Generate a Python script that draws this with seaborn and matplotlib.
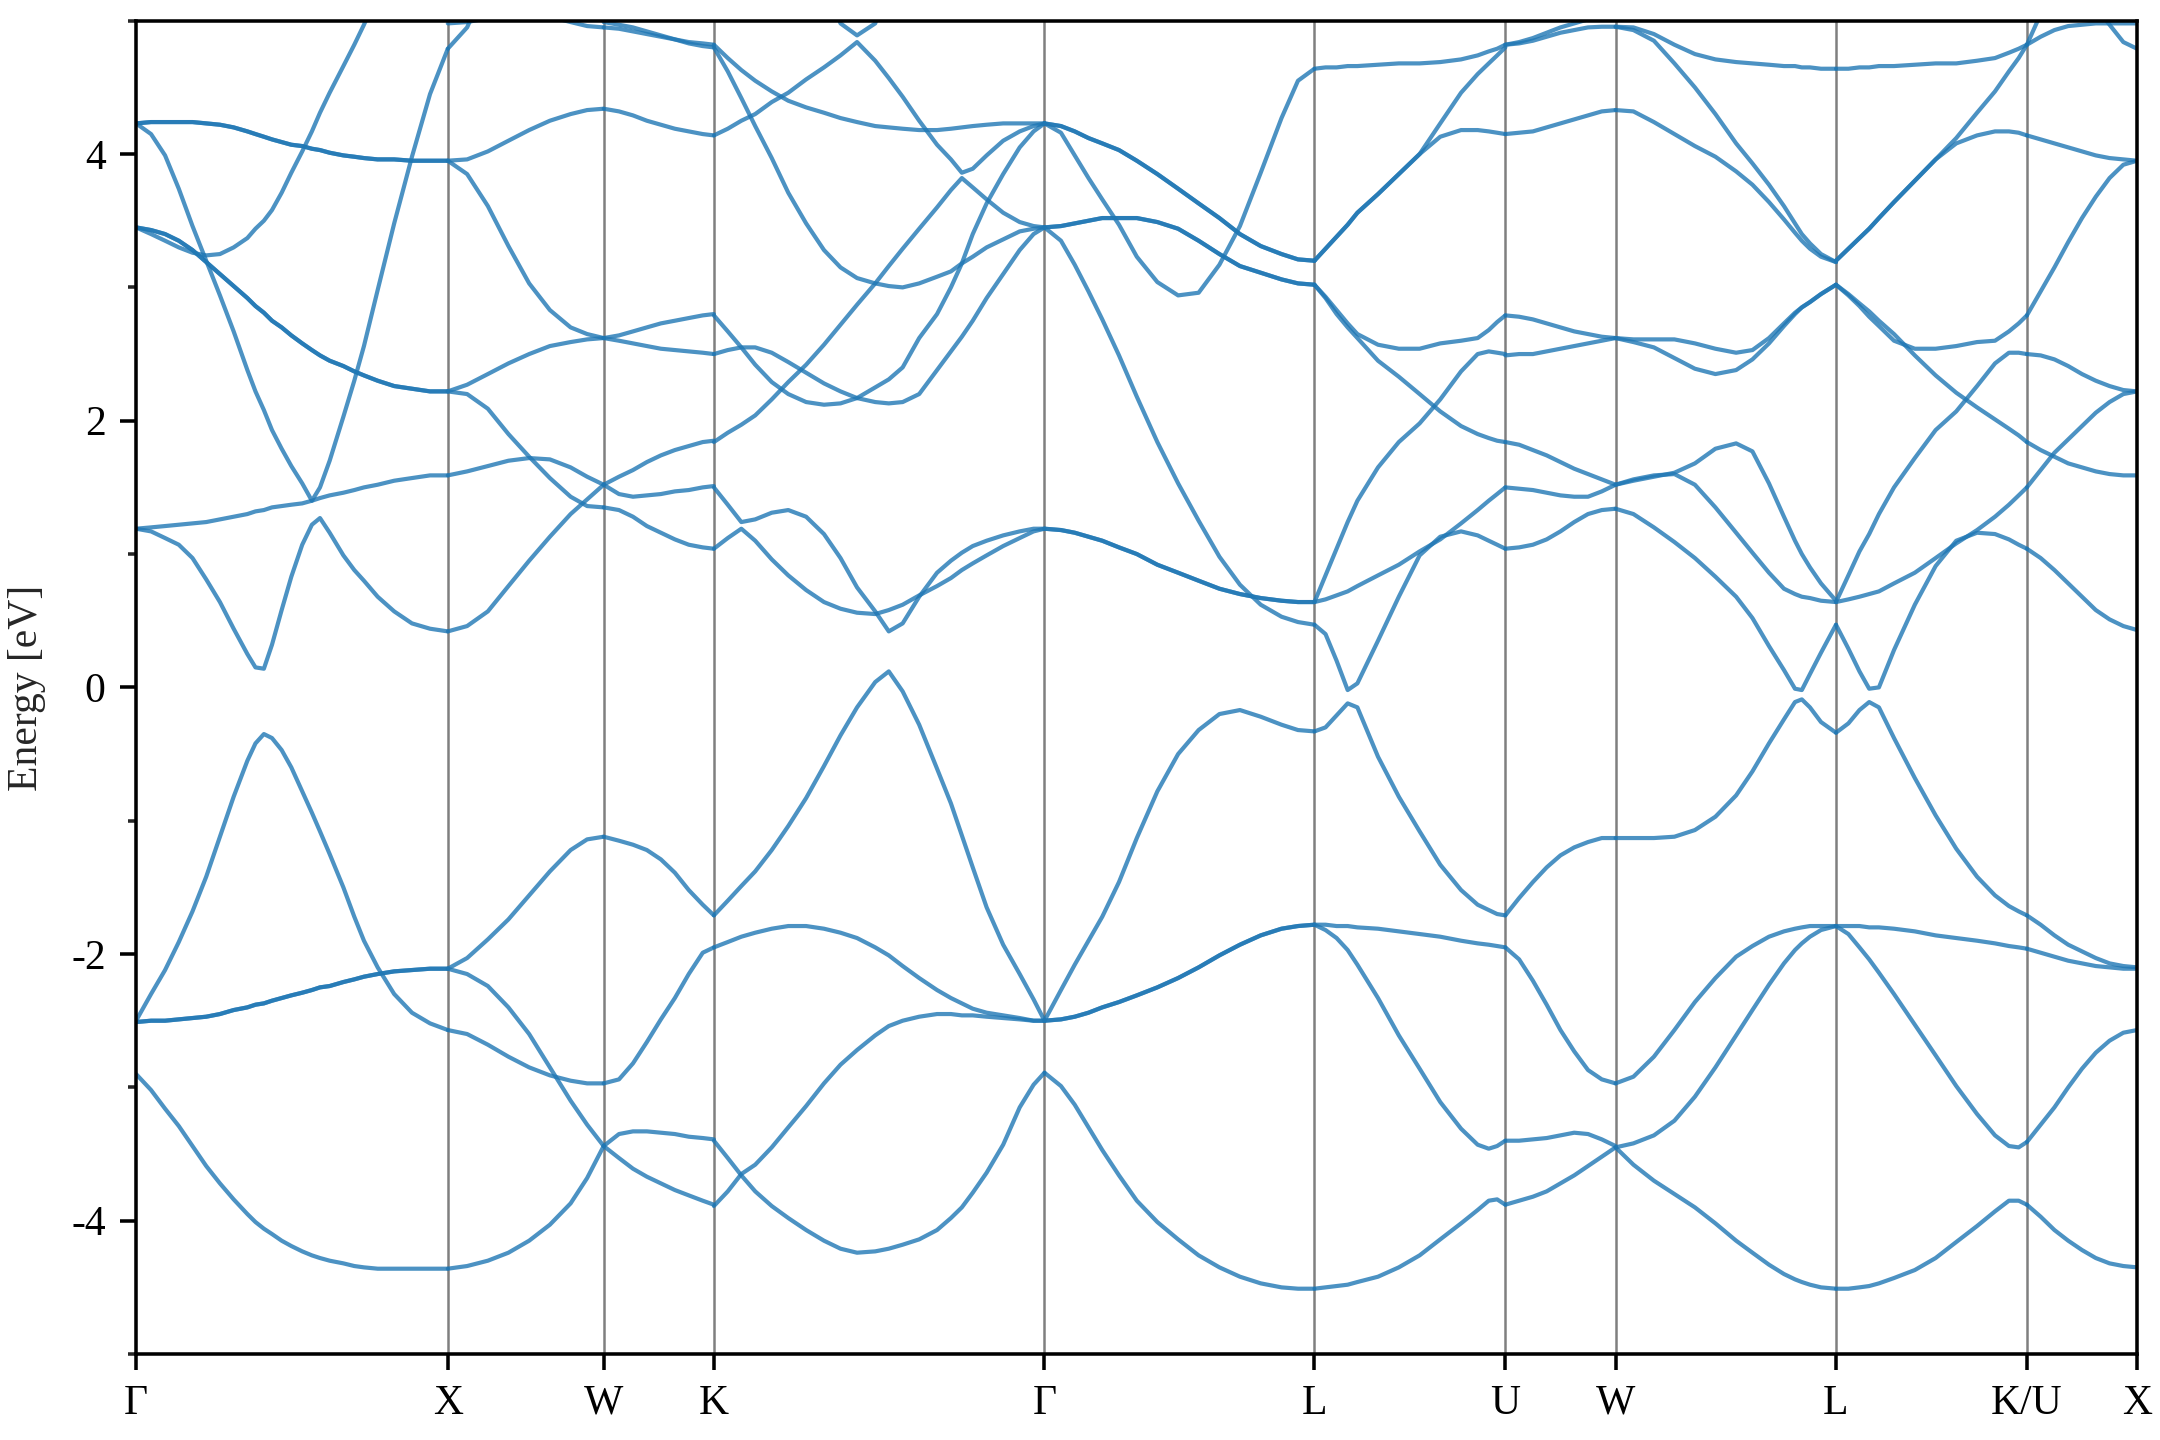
import numpy as np
import pandas as pd
import matplotlib
matplotlib.use("Agg")
import matplotlib.pyplot as plt
from matplotlib.ticker import MultipleLocator
import seaborn as sns

nan = np.nan

# high-symmetry path (distances in 2pi/a)
K_LABELS = ["Γ", "X", "W", "K", "Γ", "L", "U", "W", "L", "K/U", "X"]
K_POINTS = [0.0, 1.0, 1.5, 1.8536, 2.9142, 3.7802, 4.3926, 4.7462, 5.4533, 6.0657, 6.4193]

# each segment: fractional positions along the segment + band energies (eV)
FRAC_GX = [0, 0.048, 0.093, 0.137, 0.181, 0.225, 0.269, 0.313, 0.357, 0.383, 0.410, 0.436, 0.467,
           0.498, 0.533, 0.564, 0.590, 0.621, 0.665, 0.700, 0.731, 0.775, 0.828, 0.885, 0.943, 1.0]
BANDS_GX = [
    [-2.90, -3.02, -3.16, -3.29, -3.44, -3.59, -3.72, -3.84, -3.95, -4.01, -4.06, -4.10, -4.15,
     -4.19, -4.23, -4.26, -4.28, -4.30, -4.32, -4.34, -4.35, -4.36, -4.36, -4.36, -4.36, -4.36],
    [-2.51, -2.50, -2.50, -2.49, -2.48, -2.47, -2.45, -2.42, -2.40, -2.38, -2.37, -2.35, -2.33,
     -2.31, -2.29, -2.27, -2.25, -2.24, -2.21, -2.19, -2.17, -2.15, -2.13, -2.12, -2.11, -2.11],
    [-2.51, -2.50, -2.50, -2.49, -2.48, -2.47, -2.45, -2.42, -2.40, -2.38, -2.37, -2.35, -2.33,
     -2.31, -2.29, -2.27, -2.25, -2.24, -2.21, -2.19, -2.17, -2.15, -2.13, -2.12, -2.11, -2.11],
    [-2.50, -2.30, -2.12, -1.91, -1.68, -1.42, -1.12, -0.82, -0.55, -0.42, -0.35, -0.38, -0.47,
     -0.60, -0.78, -0.94, -1.08, -1.25, -1.50, -1.72, -1.90, -2.10, -2.30, -2.44, -2.52, -2.57],
    [1.19, 1.17, 1.12, 1.07, 0.97, 0.81, 0.64, 0.44, 0.25, 0.15, 0.14, 0.32, 0.58,
     0.83, 1.07, 1.22, 1.27, 1.16, 0.99, 0.88, 0.80, 0.68, 0.57, 0.48, 0.44, 0.42],
    [1.19, 1.20, 1.21, 1.22, 1.23, 1.24, 1.26, 1.28, 1.30, 1.32, 1.33, 1.35, 1.36,
     1.37, 1.38, 1.40, 1.42, 1.44, 1.46, 1.48, 1.50, 1.52, 1.55, 1.57, 1.59, 1.59],
    [4.23, 4.15, 3.99, 3.74, 3.46, 3.20, 2.94, 2.67, 2.38, 2.22, 2.08, 1.93, 1.79,
     1.66, 1.53, 1.40, 1.50, 1.70, 2.03, 2.30, 2.56, 2.98, 3.48, 3.98, 4.45, 4.79],
    [3.45, 3.43, 3.40, 3.35, 3.28, 3.19, 3.10, 3.01, 2.92, 2.86, 2.81, 2.75, 2.70,
     2.64, 2.58, 2.53, 2.49, 2.45, 2.41, 2.37, 2.34, 2.30, 2.26, 2.24, 2.22, 2.22],
    [3.45, 3.43, 3.40, 3.35, 3.28, 3.19, 3.10, 3.01, 2.92, 2.86, 2.81, 2.75, 2.70,
     2.64, 2.58, 2.53, 2.49, 2.45, 2.41, 2.37, 2.34, 2.30, 2.26, 2.24, 2.22, 2.22],
    [3.45, 3.40, 3.35, 3.30, 3.26, 3.24, 3.25, 3.30, 3.37, 3.44, 3.50, 3.58, 3.71,
     3.86, 4.02, 4.17, 4.31, 4.46, 4.66, 4.82, 4.97, 5.20, nan, nan, nan, nan],
    [4.23, 4.24, 4.24, 4.24, 4.24, 4.23, 4.22, 4.20, 4.17, 4.15, 4.13, 4.11, 4.09,
     4.07, 4.06, 4.04, 4.03, 4.01, 3.99, 3.98, 3.97, 3.96, 3.96, 3.95, 3.95, 3.95],
    [4.23, 4.24, 4.24, 4.24, 4.24, 4.23, 4.22, 4.20, 4.17, 4.15, 4.13, 4.11, 4.09,
     4.07, 4.06, 4.04, 4.03, 4.01, 3.99, 3.98, 3.97, 3.96, 3.96, 3.95, 3.95, 3.95],
]

FRAC_XW = [0, 0.124, 0.257, 0.389, 0.522, 0.655, 0.788, 0.894, 1.0]
BANDS_XW = [
    [-4.36, -4.34, -4.30, -4.24, -4.15, -4.03, -3.87, -3.68, -3.44],
    [-2.11, -2.15, -2.24, -2.40, -2.60, -2.85, -3.10, -3.28, -3.44],
    [-2.57, -2.60, -2.68, -2.77, -2.85, -2.91, -2.95, -2.97, -2.97],
    [-2.11, -2.03, -1.89, -1.74, -1.56, -1.38, -1.22, -1.14, -1.12],
    [0.42, 0.46, 0.57, 0.76, 0.95, 1.13, 1.30, 1.41, 1.52],
    [1.59, 1.62, 1.66, 1.70, 1.72, 1.71, 1.65, 1.58, 1.52],
    [2.22, 2.20, 2.09, 1.90, 1.73, 1.57, 1.43, 1.36, 1.35],
    [2.22, 2.27, 2.35, 2.43, 2.50, 2.56, 2.59, 2.61, 2.62],
    [3.95, 3.85, 3.61, 3.31, 3.03, 2.83, 2.70, 2.65, 2.62],
    [3.95, 3.96, 4.02, 4.10, 4.18, 4.25, 4.30, 4.33, 4.34],
    [4.79, 4.95, 5.30, nan, nan, nan, nan, nan, nan],
    [4.98, 4.99, 5.02, 5.05, 5.05, 5.03, 4.99, 4.96, 4.95],
]

FRAC_WK = [0, 0.139, 0.266, 0.392, 0.519, 0.646, 0.772, 0.899, 1.0]
BANDS_WK = [
    [-3.44, -3.53, -3.61, -3.67, -3.72, -3.77, -3.81, -3.85, -3.88],
    [-3.44, -3.35, -3.33, -3.33, -3.34, -3.35, -3.37, -3.38, -3.39],
    [-2.97, -2.94, -2.82, -2.66, -2.49, -2.33, -2.15, -1.99, -1.95],
    [-1.12, -1.15, -1.18, -1.22, -1.29, -1.39, -1.52, -1.63, -1.71],
    [1.52, 1.58, 1.63, 1.69, 1.74, 1.78, 1.81, 1.84, 1.85],
    [1.52, 1.45, 1.43, 1.44, 1.45, 1.47, 1.48, 1.50, 1.51],
    [1.35, 1.33, 1.28, 1.21, 1.16, 1.11, 1.07, 1.05, 1.04],
    [2.62, 2.64, 2.67, 2.70, 2.73, 2.75, 2.77, 2.79, 2.80],
    [2.62, 2.60, 2.58, 2.56, 2.54, 2.53, 2.52, 2.51, 2.50],
    [4.34, 4.32, 4.29, 4.25, 4.22, 4.19, 4.17, 4.15, 4.14],
    [4.95, 4.94, 4.92, 4.90, 4.88, 4.86, 4.84, 4.83, 4.82],
    [4.99, 4.97, 4.95, 4.92, 4.89, 4.86, 4.83, 4.81, 4.80],
]

FRAC_KG = [0, 0.042, 0.083, 0.125, 0.175, 0.225, 0.279, 0.333, 0.383, 0.433, 0.488, 0.529,
           0.571, 0.621, 0.675, 0.717, 0.750, 0.783, 0.825, 0.875, 0.925, 0.967, 1.0]
BANDS_KG = [
    [-3.40, -3.53, -3.66, -3.78, -3.89, -3.98, -4.07, -4.15, -4.21, -4.24, -4.23, -4.21,
     -4.18, -4.14, -4.07, -3.98, -3.90, -3.79, -3.64, -3.43, -3.15, -2.98, -2.89],
    [-3.89, -3.78, -3.65, -3.58, -3.45, -3.30, -3.14, -2.97, -2.83, -2.72, -2.61, -2.54,
     -2.50, -2.47, -2.45, -2.45, -2.46, -2.46, -2.47, -2.48, -2.49, -2.50, -2.50],
    [-1.95, -1.91, -1.87, -1.84, -1.81, -1.79, -1.79, -1.81, -1.84, -1.88, -1.95, -2.01,
     -2.09, -2.18, -2.27, -2.33, -2.37, -2.41, -2.44, -2.46, -2.48, -2.50, -2.50],
    [-1.71, -1.60, -1.49, -1.38, -1.22, -1.04, -0.83, -0.59, -0.36, -0.15, 0.04, 0.12,
     -0.03, -0.28, -0.61, -0.87, -1.11, -1.35, -1.65, -1.93, -2.15, -2.34, -2.50],
    [1.50, 1.37, 1.24, 1.26, 1.31, 1.33, 1.28, 1.15, 0.97, 0.75, 0.57, 0.42,
     0.48, 0.68, 0.86, 0.95, 1.01, 1.06, 1.10, 1.14, 1.17, 1.19, 1.19],
    [1.04, 1.12, 1.19, 1.10, 0.96, 0.84, 0.73, 0.64, 0.59, 0.56, 0.55, 0.58,
     0.62, 0.69, 0.76, 0.82, 0.88, 0.93, 0.99, 1.06, 1.12, 1.17, 1.19],
    [2.79, 2.67, 2.55, 2.42, 2.29, 2.20, 2.14, 2.12, 2.13, 2.17, 2.25, 2.31,
     2.40, 2.62, 2.80, 3.00, 3.18, 3.40, 3.63, 3.85, 4.05, 4.17, 4.23],
    [2.50, 2.53, 2.55, 2.55, 2.51, 2.44, 2.36, 2.28, 2.22, 2.17, 2.14, 2.13,
     2.14, 2.20, 2.38, 2.52, 2.63, 2.75, 2.92, 3.10, 3.28, 3.40, 3.45],
    [1.84, 1.91, 1.97, 2.04, 2.16, 2.29, 2.42, 2.57, 2.72, 2.87, 3.03, 3.16,
     3.29, 3.44, 3.60, 3.73, 3.82, 3.75, 3.66, 3.56, 3.49, 3.46, 3.45],
    [4.14, 4.19, 4.25, 4.30, 4.39, 4.46, 4.56, 4.65, 4.74, 4.84, 4.70, 4.57,
     4.43, 4.25, 4.07, 3.96, 3.86, 3.89, 3.99, 4.10, 4.17, 4.21, 4.23],
    [4.82, 4.72, 4.63, 4.55, 4.47, 4.40, 4.35, 4.31, 4.27, 4.24, 4.21, 4.20,
     4.19, 4.18, 4.18, 4.19, 4.20, 4.21, 4.22, 4.23, 4.23, 4.23, 4.23],
    [4.80, 4.62, 4.42, 4.21, 3.97, 3.71, 3.48, 3.28, 3.15, 3.07, 3.03, 3.01,
     3.00, 3.03, 3.08, 3.12, 3.18, 3.23, 3.30, 3.36, 3.42, 3.44, 3.45],
    [nan, nan, nan, nan, nan, nan, nan, 5.30, 4.98, 4.89, 4.98, 5.30,
     nan, nan, nan, nan, nan, nan, nan, nan, nan, nan, nan],
]

FRAC_GL = [0, 0.061, 0.112, 0.163, 0.214, 0.276, 0.342, 0.418, 0.495, 0.571, 0.648, 0.724,
           0.801, 0.878, 0.939, 1.0]
BANDS_GL = [
    [-2.89, -2.99, -3.13, -3.30, -3.47, -3.66, -3.85, -4.01, -4.14, -4.26, -4.35, -4.42, -4.47, -4.50, -4.51, -4.51],
    [-2.50, -2.49, -2.47, -2.44, -2.40, -2.36, -2.31, -2.25, -2.18, -2.10, -2.01, -1.93, -1.86, -1.81, -1.79, -1.78],
    [-2.50, -2.49, -2.47, -2.44, -2.40, -2.36, -2.31, -2.25, -2.18, -2.10, -2.01, -1.93, -1.86, -1.81, -1.79, -1.78],
    [-2.50, -2.27, -2.08, -1.90, -1.72, -1.46, -1.13, -0.78, -0.50, -0.32, -0.20, -0.17, -0.22, -0.28, -0.32, -0.33],
    [1.19, 1.18, 1.16, 1.13, 1.10, 1.05, 1.00, 0.92, 0.86, 0.80, 0.74, 0.70, 0.67, 0.65, 0.64, 0.64],
    [1.19, 1.18, 1.16, 1.13, 1.10, 1.05, 1.00, 0.92, 0.86, 0.80, 0.74, 0.70, 0.67, 0.65, 0.64, 0.64],
    [3.45, 3.35, 3.17, 2.97, 2.76, 2.49, 2.18, 1.84, 1.53, 1.25, 0.98, 0.77, 0.62, 0.53, 0.49, 0.47],
    [3.45, 3.46, 3.48, 3.50, 3.52, 3.52, 3.52, 3.49, 3.44, 3.35, 3.25, 3.16, 3.11, 3.06, 3.03, 3.02],
    [3.45, 3.46, 3.48, 3.50, 3.52, 3.52, 3.52, 3.49, 3.44, 3.35, 3.25, 3.16, 3.11, 3.06, 3.03, 3.02],
    [4.23, 4.21, 4.17, 4.12, 4.08, 4.03, 3.95, 3.85, 3.74, 3.63, 3.52, 3.40, 3.31, 3.25, 3.21, 3.20],
    [4.23, 4.21, 4.17, 4.12, 4.08, 4.03, 3.95, 3.85, 3.74, 3.63, 3.52, 3.40, 3.31, 3.25, 3.21, 3.20],
    [4.23, 4.16, 3.99, 3.82, 3.66, 3.47, 3.23, 3.04, 2.94, 2.96, 3.17, 3.46, 3.86, 4.27, 4.55, 4.64],
]

FRAC_LU = [0, 0.058, 0.116, 0.174, 0.225, 0.333, 0.442, 0.551, 0.659, 0.768, 0.855, 0.913, 0.957, 1.0]
BANDS_LU = [
    [-4.51, -4.50, -4.49, -4.48, -4.46, -4.42, -4.35, -4.26, -4.14, -4.02, -3.92, -3.85, -3.84, -3.88],
    [-1.78, -1.78, -1.79, -1.79, -1.80, -1.81, -1.83, -1.85, -1.87, -1.90, -1.92, -1.93, -1.94, -1.95],
    [-1.78, -1.82, -1.88, -1.97, -2.08, -2.33, -2.61, -2.86, -3.11, -3.31, -3.43, -3.46, -3.44, -3.40],
    [-0.33, -0.30, -0.21, -0.12, -0.15, -0.52, -0.82, -1.08, -1.33, -1.52, -1.63, -1.67, -1.70, -1.71],
    [0.47, 0.40, 0.20, -0.02, 0.03, 0.35, 0.68, 0.99, 1.13, 1.17, 1.14, 1.10, 1.07, 1.04],
    [0.64, 0.66, 0.69, 0.72, 0.76, 0.84, 0.92, 1.02, 1.11, 1.23, 1.33, 1.40, 1.45, 1.50],
    [0.64, 0.84, 1.04, 1.24, 1.40, 1.65, 1.84, 1.98, 2.16, 2.37, 2.50, 2.52, 2.51, 2.50],
    [3.02, 2.92, 2.80, 2.70, 2.62, 2.45, 2.33, 2.20, 2.07, 1.96, 1.90, 1.87, 1.85, 1.84],
    [3.02, 2.93, 2.83, 2.73, 2.65, 2.57, 2.54, 2.54, 2.58, 2.60, 2.62, 2.68, 2.74, 2.79],
    [3.20, 3.29, 3.38, 3.47, 3.56, 3.70, 3.85, 4.00, 4.23, 4.46, 4.60, 4.68, 4.74, 4.80],
    [3.20, 3.29, 3.38, 3.47, 3.56, 3.70, 3.85, 4.00, 4.13, 4.18, 4.18, 4.17, 4.16, 4.15],
    [4.64, 4.65, 4.65, 4.66, 4.66, 4.67, 4.68, 4.68, 4.69, 4.71, 4.74, 4.77, 4.79, 4.82],
]

FRAC_UW = [0, 0.125, 0.25, 0.375, 0.5, 0.625, 0.75, 0.875, 1.0]
BANDS_UW = [
    [-3.88, -3.85, -3.82, -3.78, -3.72, -3.66, -3.59, -3.52, -3.45],
    [-3.40, -3.40, -3.39, -3.38, -3.36, -3.34, -3.35, -3.39, -3.44],
    [-1.95, -2.04, -2.20, -2.38, -2.57, -2.73, -2.87, -2.94, -2.97],
    [-1.71, -1.58, -1.46, -1.35, -1.26, -1.20, -1.16, -1.13, -1.13],
    [1.50, 1.49, 1.48, 1.46, 1.44, 1.43, 1.43, 1.47, 1.52],
    [1.04, 1.05, 1.07, 1.11, 1.17, 1.24, 1.30, 1.33, 1.34],
    [1.84, 1.82, 1.78, 1.74, 1.69, 1.64, 1.60, 1.56, 1.52],
    [2.49, 2.50, 2.50, 2.52, 2.54, 2.56, 2.58, 2.60, 2.62],
    [2.79, 2.78, 2.76, 2.73, 2.70, 2.67, 2.65, 2.63, 2.62],
    [4.15, 4.16, 4.17, 4.20, 4.23, 4.26, 4.29, 4.32, 4.33],
    [4.82, 4.83, 4.85, 4.88, 4.91, 4.93, 4.95, 4.955, 4.955],
    [4.82, 4.84, 4.87, 4.91, 4.95, 4.98, 5.01, 5.05, 5.10],
]

FRAC_WL = [0, 0.081, 0.174, 0.267, 0.360, 0.453, 0.547, 0.621, 0.696, 0.764, 0.814, 0.845,
           0.882, 0.932, 1.0]
BANDS_WL = [
    [-3.45, -3.58, -3.70, -3.80, -3.90, -4.02, -4.15, -4.24, -4.33, -4.40, -4.44, -4.46, -4.48, -4.50, -4.51],
    [-3.45, -3.42, -3.36, -3.25, -3.07, -2.85, -2.61, -2.42, -2.23, -2.07, -1.97, -1.92, -1.87, -1.82, -1.79],
    [-2.97, -2.92, -2.77, -2.57, -2.36, -2.18, -2.02, -1.94, -1.87, -1.83, -1.81, -1.80, -1.79, -1.79, -1.79],
    [-1.13, -1.13, -1.13, -1.12, -1.07, -0.97, -0.81, -0.63, -0.42, -0.24, -0.11, -0.09, -0.15, -0.26, -0.34],
    [1.34, 1.30, 1.20, 1.09, 0.97, 0.83, 0.68, 0.52, 0.31, 0.13, -0.01, -0.02, 0.10, 0.26, 0.47],
    [1.52, 1.56, 1.59, 1.60, 1.52, 1.35, 1.16, 1.01, 0.86, 0.74, 0.70, 0.68, 0.67, 0.65, 0.64],
    [1.52, 1.55, 1.58, 1.61, 1.68, 1.79, 1.83, 1.77, 1.53, 1.28, 1.10, 1.00, 0.90, 0.78, 0.65],
    [2.62, 2.61, 2.61, 2.61, 2.58, 2.54, 2.51, 2.53, 2.62, 2.73, 2.81, 2.85, 2.89, 2.95, 3.02],
    [2.62, 2.59, 2.55, 2.47, 2.39, 2.35, 2.38, 2.46, 2.58, 2.71, 2.80, 2.85, 2.89, 2.95, 3.02],
    [4.33, 4.32, 4.24, 4.15, 4.06, 3.98, 3.87, 3.77, 3.64, 3.51, 3.41, 3.35, 3.29, 3.23, 3.19],
    [4.955, 4.93, 4.85, 4.68, 4.50, 4.30, 4.08, 3.93, 3.77, 3.61, 3.48, 3.40, 3.33, 3.25, 3.19],
    [4.955, 4.95, 4.90, 4.82, 4.75, 4.71, 4.69, 4.68, 4.67, 4.66, 4.66, 4.65, 4.65, 4.64, 4.64],
]

FRAC_LK = [0, 0.065, 0.123, 0.174, 0.225, 0.304, 0.413, 0.522, 0.630, 0.739, 0.833, 0.906, 0.957, 1.0]
BANDS_LK = [
    [-4.51, -4.51, -4.50, -4.49, -4.47, -4.43, -4.37, -4.28, -4.16, -4.04, -3.93, -3.85, -3.85, -3.88],
    [-1.79, -1.79, -1.79, -1.80, -1.80, -1.81, -1.83, -1.86, -1.88, -1.90, -1.92, -1.94, -1.95, -1.96],
    [-1.79, -1.85, -1.95, -2.04, -2.14, -2.30, -2.53, -2.76, -2.99, -3.20, -3.36, -3.44, -3.45, -3.41],
    [-0.34, -0.27, -0.17, -0.11, -0.15, -0.38, -0.68, -0.96, -1.21, -1.42, -1.56, -1.64, -1.68, -1.71],
    [0.47, 0.29, 0.12, -0.01, 0.00, 0.28, 0.62, 0.91, 1.10, 1.16, 1.15, 1.11, 1.07, 1.04],
    [0.64, 0.66, 0.68, 0.70, 0.72, 0.78, 0.86, 0.97, 1.08, 1.18, 1.28, 1.37, 1.44, 1.50],
    [0.64, 0.84, 1.02, 1.15, 1.30, 1.50, 1.72, 1.93, 2.07, 2.26, 2.43, 2.51, 2.51, 2.50],
    [3.02, 2.95, 2.88, 2.82, 2.75, 2.65, 2.49, 2.34, 2.21, 2.10, 2.01, 1.94, 1.89, 1.84],
    [3.02, 2.94, 2.86, 2.78, 2.71, 2.60, 2.54, 2.54, 2.56, 2.59, 2.60, 2.67, 2.73, 2.79],
    [3.20, 3.29, 3.37, 3.44, 3.52, 3.64, 3.80, 3.96, 4.08, 4.14, 4.17, 4.17, 4.16, 4.14],
    [3.20, 3.29, 3.37, 3.44, 3.52, 3.64, 3.80, 3.96, 4.12, 4.31, 4.47, 4.62, 4.72, 4.82],
    [4.64, 4.64, 4.65, 4.65, 4.66, 4.66, 4.67, 4.68, 4.68, 4.70, 4.72, 4.76, 4.79, 4.82],
]

FRAC_KX = [0, 0.125, 0.25, 0.375, 0.5, 0.625, 0.75, 0.875, 1.0]
BANDS_KX = [
    [-3.88, -3.97, -4.07, -4.15, -4.22, -4.28, -4.32, -4.34, -4.35],
    [-3.41, -3.28, -3.15, -3.00, -2.86, -2.74, -2.65, -2.59, -2.57],
    [-1.96, -1.99, -2.02, -2.05, -2.07, -2.09, -2.10, -2.11, -2.11],
    [-1.71, -1.78, -1.86, -1.93, -1.98, -2.03, -2.07, -2.09, -2.10],
    [1.04, 0.97, 0.88, 0.78, 0.68, 0.58, 0.51, 0.46, 0.43],
    [1.50, 1.63, 1.76, 1.86, 1.96, 2.06, 2.14, 2.20, 2.22],
    [1.84, 1.78, 1.73, 1.68, 1.65, 1.62, 1.60, 1.59, 1.59],
    [2.50, 2.49, 2.46, 2.41, 2.35, 2.30, 2.26, 2.23, 2.22],
    [2.79, 2.97, 3.15, 3.34, 3.52, 3.68, 3.82, 3.92, 3.95],
    [4.14, 4.11, 4.08, 4.05, 4.02, 3.99, 3.97, 3.96, 3.95],
    [4.82, 4.88, 4.93, 4.96, 4.97, 4.98, 4.98, 4.98, 4.98],
    [4.82, 5.05, nan, nan, nan, nan, nan, nan, nan],
    [nan, nan, nan, nan, nan, 5.10, 4.97, 4.84, 4.79],
]

SEGMENTS = [
    (FRAC_GX, BANDS_GX), (FRAC_XW, BANDS_XW), (FRAC_WK, BANDS_WK), (FRAC_KG, BANDS_KG),
    (FRAC_GL, BANDS_GL), (FRAC_LU, BANDS_LU), (FRAC_UW, BANDS_UW), (FRAC_WL, BANDS_WL),
    (FRAC_LK, BANDS_LK), (FRAC_KX, BANDS_KX),
]

# long-form table: one row per (curve, k, E)
rows = []
curve = 0
for i, (frac, bands) in enumerate(SEGMENTS):
    k0, k1 = K_POINTS[i], K_POINTS[i + 1]
    kk = k0 + np.asarray(frac) * (k1 - k0)
    for band in bands:
        for k, e in zip(kk, band):
            rows.append((curve, k, e))
        curve += 1
df = pd.DataFrame(rows, columns=["curve", "k", "energy"]).dropna()

sns.set_style("ticks")
plt.rcParams["font.family"] = ["Liberation Serif", "DejaVu Serif"]
plt.rcParams["axes.unicode_minus"] = False

fig, ax = plt.subplots(figsize=(7.2, 4.8), dpi=300)
fig.subplots_adjust(left=0.063, right=0.9894, top=0.9856, bottom=0.0597)

for x in K_POINTS[1:-1]:
    ax.axvline(x, color="k", alpha=0.5, lw=0.6, zorder=1)

sns.lineplot(data=df, x="k", y="energy", units="curve", estimator=None, sort=False,
             color="#1f77b4", alpha=0.8, lw=1.0, legend=False, ax=ax, zorder=2)

ax.set_xlim(K_POINTS[0], K_POINTS[-1])
ax.set_ylim(-5, 5)
ax.set_xticks(K_POINTS)
ax.set_xticklabels(K_LABELS)
ax.yaxis.set_major_locator(MultipleLocator(2))
ax.yaxis.set_minor_locator(MultipleLocator(1))
ax.tick_params(axis="both", which="major", direction="out", length=3.8, width=0.85,
               labelsize=10, colors="black", top=False, right=False)
ax.tick_params(axis="y", which="minor", direction="out", length=2.0, width=0.85, right=False)
ax.set_xlabel("")
ax.set_ylabel("Energy [eV]", fontsize=10, labelpad=6)
for s in ax.spines.values():
    s.set_linewidth(0.85)
    s.set_color("black")

fig.savefig("out.png", dpi=300)
